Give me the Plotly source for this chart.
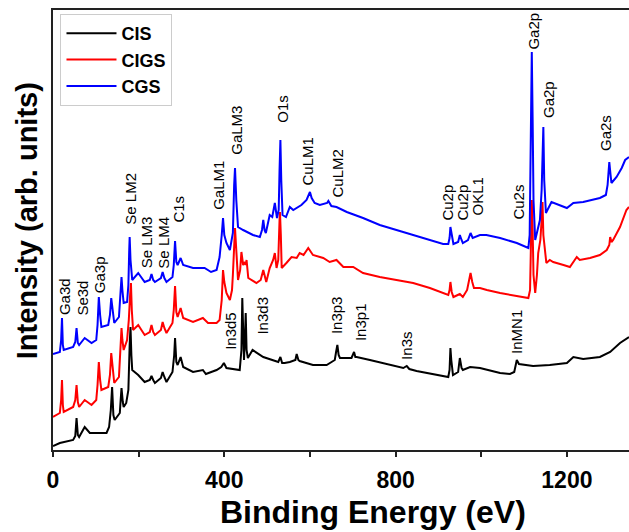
import plotly.graph_objects as go

# ---------------- data (binding energy in eV, intensity in arb. units) ----------------
cis_ev = [0, 16, 47, 52, 55, 58, 61, 74, 86, 125, 131, 135, 138, 141, 144, 156, 158, 160, 163, 165,
          171, 176, 179, 181, 183, 185, 199, 214, 226, 230, 234, 238, 252, 256, 260, 265, 279, 283,
          285, 288, 291, 298, 304, 327, 350, 357, 382, 393, 399, 405, 436, 440, 442, 444, 446, 448,
          450, 452, 455, 466, 491, 526, 531, 535, 541, 553, 566, 569, 573, 576, 607, 639, 658, 661,
          664, 667, 670, 697, 703, 706, 709, 740, 787, 818, 826, 832, 849, 896, 923, 926, 928, 930,
          934, 946, 950, 954, 957, 974, 997, 1044, 1067, 1077, 1083, 1088, 1121, 1160, 1200, 1215,
          1238, 1277, 1301, 1324, 1345]
cis_int = [4, 7, 10, 14, 32, 15, 13, 23, 17, 17, 23, 40, 63, 35, 30, 37, 50, 62, 48, 43,
           47, 60, 105, 123, 95, 80, 75, 68, 70, 74, 70, 67, 72, 78, 73, 68, 78, 95,
           112, 88, 85, 93, 83, 78, 80, 76, 80, 83, 87, 82, 80, 100, 152, 100, 90, 110,
           137, 100, 92, 100, 93, 88, 93, 87, 87, 88, 90, 96, 90, 89, 85, 85, 90, 98,
           105, 95, 92, 92, 98, 93, 93, 90, 85, 82, 84, 81, 79, 75, 73, 80, 102, 90,
           75, 78, 92, 82, 80, 83, 82, 77, 76, 78, 90, 86, 84, 85, 87, 93,
           91, 93, 98, 107, 113]

cigs_ev = [0, 16, 19, 21, 23, 25, 47, 52, 55, 58, 61, 74, 90, 101, 104, 107, 110, 113, 129, 133,
           136, 139, 143, 154, 157, 160, 162, 165, 173, 177, 180, 182, 184, 187, 199, 214, 226, 230,
           234, 238, 252, 256, 260, 265, 279, 282, 285, 288, 291, 298, 304, 327, 350, 362, 382, 389,
           394, 397, 400, 405, 413, 418, 420, 423, 425, 428, 432, 437, 440, 444, 448, 450, 452, 456,
           475, 485, 491, 498, 506, 514, 518, 522, 526, 529, 530, 532, 534, 545, 557, 569, 576, 585,
           596, 607, 631, 646, 662, 678, 701, 724, 763, 802, 841, 880, 911, 923, 926, 928, 931, 935,
           950, 957, 967, 971, 975, 979, 983, 997, 1013, 1044, 1083, 1110, 1114, 1116, 1118, 1120,
           1122, 1126, 1130, 1133, 1138, 1141, 1143, 1145, 1149, 1152, 1160, 1168, 1192, 1207, 1223,
           1230, 1254, 1277, 1293, 1299, 1301, 1304, 1308, 1324, 1339, 1345]
cigs_int = [33, 37, 50, 70, 45, 38, 43, 50, 65, 48, 43, 50, 45, 50, 65, 88, 70, 60, 63, 75,
            97, 80, 67, 73, 95, 122, 110, 100, 110, 130, 155, 167, 140, 120, 125, 115, 118, 125,
            118, 115, 120, 128, 122, 117, 127, 140, 164, 138, 133, 142, 132, 128, 132, 127, 127, 130,
            150, 180, 168, 157, 150, 160, 175, 215, 222, 200, 170, 180, 198, 185, 188, 185, 190, 172,
            167, 170, 180, 168, 182, 190, 197, 182, 190, 230, 238, 215, 182, 187, 193, 192, 197, 195,
            202, 195, 192, 188, 190, 183, 183, 177, 173, 170, 167, 162, 157, 155, 160, 168, 158, 153,
            156, 153, 160, 170, 177, 168, 162, 162, 160, 157, 154, 152, 160, 200, 250, 220,
            175, 157, 175, 197, 210, 230, 248, 215, 200, 187, 190, 188, 185, 183, 193,
            190, 192, 195, 200, 205, 213, 208, 210, 223, 240, 243]

cgs_ev = [0, 16, 19, 21, 23, 25, 47, 52, 55, 58, 61, 74, 90, 101, 104, 107, 110, 113, 129, 133,
          136, 139, 143, 154, 157, 160, 162, 165, 173, 176, 178, 179, 181, 185, 199, 214, 226, 230,
          234, 238, 252, 256, 260, 265, 279, 282, 285, 288, 291, 298, 304, 327, 354, 369, 382, 389,
          394, 397, 400, 405, 413, 418, 420, 423, 425, 428, 432, 444, 452, 467, 483, 488, 491, 494,
          497, 506, 512, 518, 523, 527, 529, 531, 533, 536, 544, 553, 561, 569, 580, 592, 597, 600,
          604, 611, 623, 640, 643, 650, 662, 686, 724, 763, 802, 841, 880, 911, 923, 926, 928, 931,
          935, 946, 950, 954, 957, 969, 975, 980, 997, 1012, 1044, 1083, 1110, 1113, 1115, 1118,
          1120, 1122, 1126, 1131, 1137, 1141, 1145, 1147, 1149, 1151, 1164, 1184, 1200, 1215, 1238,
          1277, 1291, 1295, 1299, 1302, 1304, 1316, 1328, 1336, 1345]
cgs_int = [96, 98, 110, 132, 105, 100, 103, 108, 122, 107, 105, 112, 107, 110, 125, 153, 135, 123, 125, 135,
           152, 138, 127, 133, 150, 173, 160, 147, 148, 165, 200, 213, 190, 170, 177, 168, 170, 176,
           170, 168, 172, 178, 172, 168, 173, 185, 209, 188, 185, 192, 185, 182, 182, 178, 180, 193,
           215, 232, 215, 207, 200, 210, 217, 265, 282, 250, 223, 220, 218, 215, 213, 220, 230, 220,
           217, 235, 233, 247, 232, 240, 280, 310, 270, 235, 233, 243, 240, 242, 245, 250, 255, 258,
           252, 247, 245, 247, 249, 244, 243, 238, 232, 225, 220, 215, 210, 206, 206, 212, 223, 215,
           206, 208, 215, 210, 207, 210, 217, 212, 215, 215, 212, 207, 202, 215, 300, 398,
           330, 250, 210, 220, 230, 260, 323, 270, 243, 237, 248, 245, 242, 247, 248,
           252, 255, 265, 288, 275, 267, 273, 282, 290, 293]

# peak labels: text, energy (eV), intensity at bottom of label
label_text = ["Ga3d", "Se3d", "Ga3p", "Se LM2", "Se LM3", "Se LM4", "C1s", "GaLM1", "GaLM3", "O1s",
              "CuLM1", "CuLM2", "Cu2p", "Cu2p", "OKL1", "Cu2s", "Ga2p", "Ga2p", "Ga2s",
              "In3d5", "In3d3", "In3p3", "In3p1", "In3s", "InMN1"]
label_ev = [27, 68, 109, 179, 218, 256, 292, 386, 428, 534,
            592, 662, 919, 954, 989, 1086, 1121, 1157, 1289,
            413, 487, 661, 717, 824, 1081]
label_int = [133, 132, 155, 223, 180, 179, 225, 238, 293, 325,
             262, 250, 227, 227, 232, 228, 398, 330, 297,
             98, 113, 114, 107, 88, 94]

tick_vals = [0, 200, 400, 600, 800, 1000, 1200]
tick_text = ["0", "", "400", "", "800", "", "1200"]

FONT = "Liberation Sans, Arial, sans-serif"

fig = go.Figure()
for name, xs, ys, col in [("CIS", cis_ev, cis_int, "#000000"),
                          ("CIGS", cigs_ev, cigs_int, "#ff0000"),
                          ("CGS", cgs_ev, cgs_int, "#0000ff")]:
    fig.add_trace(go.Scatter(x=xs, y=ys, mode="lines", name=name,
                             line=dict(color=col, width=2)))

for t, x, y in zip(label_text, label_ev, label_int):
    fig.add_annotation(x=x, y=y, text=t, textangle=-90, showarrow=False,
                       xanchor="center", yanchor="bottom",
                       font=dict(family=FONT, size=15, color="#000"))

# axis titles
fig.add_annotation(xref="paper", yref="paper", x=0.555, y=-0.141, text="Binding Energy (eV)",
                   showarrow=False, xanchor="center", yanchor="middle",
                   font=dict(family=FONT, size=32, color="#000", weight="bold"))
fig.add_annotation(xref="paper", yref="paper", x=-0.045, y=0.52, text="Intensity (arb. units)",
                   showarrow=False, textangle=-90, xanchor="center", yanchor="middle",
                   font=dict(family=FONT, size=29, color="#000", weight="bold"))

fig.update_layout(
    width=629, height=532,
    margin=dict(l=53, r=0, t=10, b=82),
    paper_bgcolor="white", plot_bgcolor="white",
    showlegend=True,
    legend=dict(x=0.013, y=0.991, xanchor="left", yanchor="top",
                bgcolor="white", bordercolor="#cccccc", borderwidth=1,
                font=dict(family=FONT, size=18, color="#000", weight="bold"),
                itemwidth=50, tracegroupgap=0),
    font=dict(family=FONT, color="#000"),
)
fig.update_xaxes(range=[0, 1345], showgrid=False, zeroline=False,
                 showline=True, linecolor="#222", linewidth=2, mirror=True,
                 ticks="outside", ticklen=5, tickwidth=1.5, tickcolor="#222",
                 tickvals=tick_vals, ticktext=tick_text,
                 tickfont=dict(family=FONT, size=23, color="#000", weight="bold"),
                 ticklabelstandoff=3)
fig.update_yaxes(range=[0, 440], showgrid=False, zeroline=False,
                 showline=True, linecolor="#222", linewidth=2,
                 showticklabels=False, ticks="")

fig.write_html("out.html", config={"displayModeBar": False},
               post_script="document.body.style.margin='0';document.body.style.overflow='hidden';")
